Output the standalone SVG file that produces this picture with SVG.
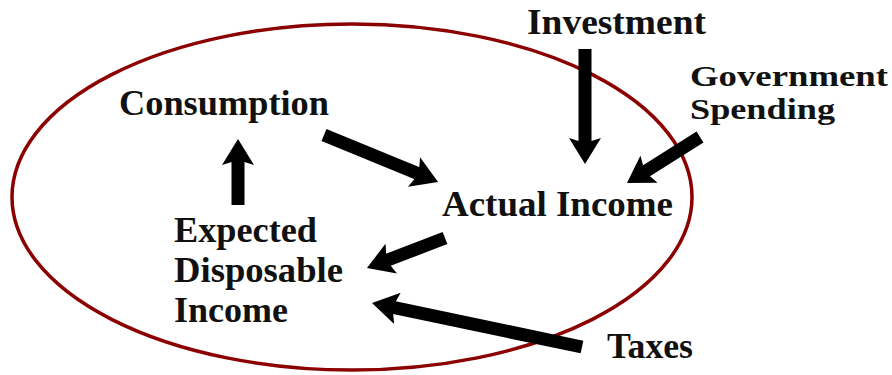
<svg xmlns="http://www.w3.org/2000/svg" width="892" height="375" viewBox="0 0 892 375">
<defs>
<style>
.lbl{font-family:"Liberation Serif","Times New Roman",serif;font-weight:bold;font-size:36px;fill:#111}
.sm{font-size:30px}
.arr{stroke:#000;stroke-width:13;fill:none;marker-end:url(#head)}
</style>
<marker id="head" markerUnits="userSpaceOnUse" viewBox="0 0 26 32" markerWidth="26" markerHeight="32" refX="8" refY="16" orient="auto">
<path d="M0,0 L26,16 L0,32 L5,16 Z" fill="#000"/>
</marker>
</defs>
<rect width="892" height="375" fill="#fff"/>
<ellipse id="boundary" cx="352" cy="197" rx="340" ry="173" fill="none" stroke="#8b0000" stroke-width="3.5"/>
<g id="connectors">
<line class="arr" x1="238" y1="205" x2="238" y2="157"/>
<line class="arr" x1="324" y1="135" x2="421.4" y2="175.1"/>
<line class="arr" x1="585" y1="49" x2="585" y2="146"/>
<line class="arr" x1="700" y1="137" x2="642.2" y2="173.4"/>
<line class="arr" x1="445" y1="238" x2="383.8" y2="261.5"/>
<line class="arr" x1="582" y1="347" x2="389.6" y2="306.7"/>
</g>
<g id="investment"><text class="lbl" x="527" y="34" textLength="179" lengthAdjust="spacingAndGlyphs">Investment</text></g>
<g id="government"><text class="lbl sm" x="690" y="86" textLength="198" lengthAdjust="spacingAndGlyphs">Government</text><text class="lbl sm" x="690" y="119" textLength="145" lengthAdjust="spacingAndGlyphs">Spending</text></g>
<g id="consumption"><text class="lbl" x="119" y="115" textLength="210" lengthAdjust="spacingAndGlyphs">Consumption</text></g>
<g id="actual-income"><text class="lbl" x="442" y="216" textLength="231" lengthAdjust="spacingAndGlyphs">Actual Income</text></g>
<g id="expected-disposable-income"><text class="lbl" x="174" y="242" textLength="143" lengthAdjust="spacingAndGlyphs">Expected</text><text class="lbl" x="174" y="282" textLength="169" lengthAdjust="spacingAndGlyphs">Disposable</text><text class="lbl" x="174" y="322" textLength="114" lengthAdjust="spacingAndGlyphs">Income</text></g>
<g id="taxes"><text class="lbl" x="607" y="358" textLength="86" lengthAdjust="spacingAndGlyphs">Taxes</text></g>
</svg>
